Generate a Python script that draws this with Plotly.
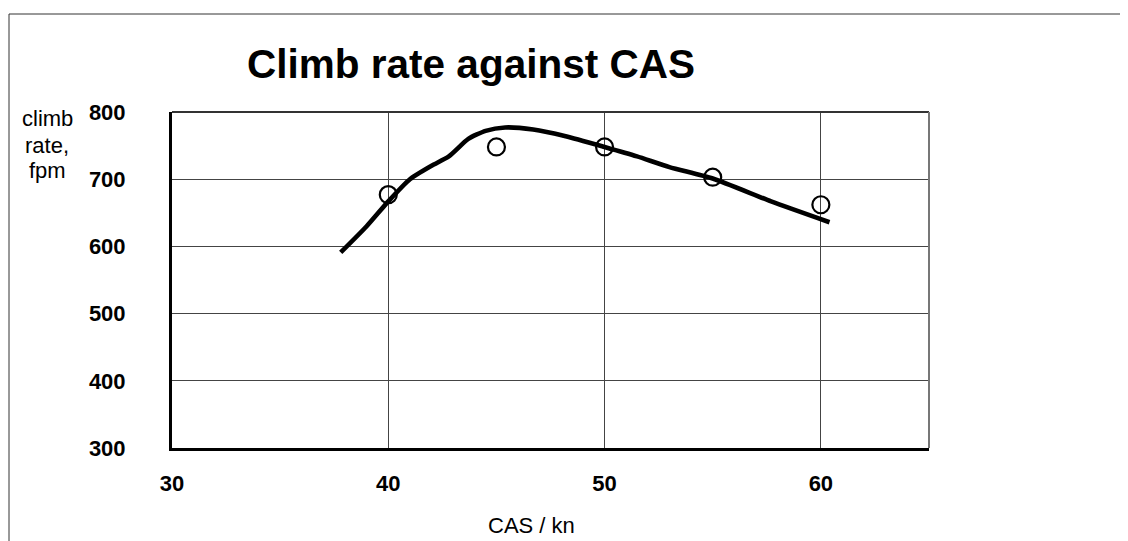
import plotly.graph_objects as go

# measured points
cas_pts = [40, 45, 50, 55, 60]
climb_pts = [677, 748, 748, 703, 662]

# fitted curve
cas_curve = [37.8, 39.0, 40.0, 41.0, 42.0, 42.8, 43.7, 44.5, 45.4, 46.7, 48.2, 50.0, 51.5, 53.0, 55.0, 57.7, 60.4]
climb_curve = [591, 630, 667, 700, 720, 734, 760, 772, 777, 774, 764, 748, 734, 718, 701, 667, 636]

x_ticks = [30, 40, 50, 60]
y_ticks = [300, 400, 500, 600, 700, 800]
y_title_lines = ["climb", "rate,", "fpm"]

FONT = "Liberation Sans, Arial, sans-serif"

fig = go.Figure()
fig.add_trace(go.Scatter(x=cas_curve, y=climb_curve, mode="lines",
                         line=dict(color="black", width=4.6, shape="spline", smoothing=0.6),
                         hoverinfo="skip", showlegend=False))
fig.add_trace(go.Scatter(x=cas_pts, y=climb_pts, mode="markers",
                         marker=dict(symbol="circle-open", size=17, color="black",
                                     line=dict(width=2.2, color="black")),
                         showlegend=False))

# the page has an 8px body margin, so figure coords = page coords - 8
W, H = 1120, 533
ml, mr, mt, mb = 164, 199, 104, 93
pw, ph = W - ml - mr, H - mt - mb

def px(xp):
    return (xp - ml) / pw

def py(yp):
    return (H - mb - yp) / ph

annotations = []
for line_text, yc in zip(y_title_lines, [110, 137, 162]):
    annotations.append(dict(text=line_text, xref="paper", yref="paper", x=px(39), y=py(yc),
                            xanchor="center", yanchor="middle", showarrow=False,
                            font=dict(size=22, family=FONT, color="black")))
annotations.append(dict(text="CAS / kn", xref="paper", yref="paper", x=px(523), y=py(517),
                        xanchor="center", yanchor="middle", showarrow=False,
                        font=dict(size=22, family=FONT, color="black")))

fig.update_layout(
    width=W, height=H,
    margin=dict(l=ml, r=mr, t=mt, b=mb),
    paper_bgcolor="white", plot_bgcolor="white",
    font=dict(family=FONT, color="black"),
    title=dict(text="<b>Climb rate against CAS</b>", xref="container", yref="container",
               x=463 / W, xanchor="center",
               y=1 - 56 / H, yanchor="middle", font=dict(size=40.5, family=FONT, color="black")),
    xaxis=dict(range=[30, 65], tickvals=x_ticks, ticktext=[str(v) for v in x_ticks],
               showgrid=True, gridcolor="#444", gridwidth=1,
               showline=True, linecolor="black", linewidth=3,
               zeroline=False, ticks="", ticklabelstandoff=14,
               tickfont=dict(size=22, family=FONT, color="black", weight="bold")),
    yaxis=dict(range=[300, 800], tickvals=y_ticks, ticktext=[str(v) for v in y_ticks],
               showgrid=True, gridcolor="#444", gridwidth=1,
               showline=True, linecolor="black", linewidth=3,
               zeroline=False, ticks="", ticklabelstandoff=39,
               tickfont=dict(size=22, family=FONT, color="black", weight="bold")),
    shapes=[
        # top and right thin plot borders
        dict(type="line", xref="paper", yref="paper", x0=0, x1=1, y0=1, y1=1,
             line=dict(color="#333", width=2)),
        dict(type="line", xref="paper", yref="paper", x0=1, x1=1, y0=0, y1=1,
             line=dict(color="#777", width=2)),
        # outer frame
        dict(type="line", xref="paper", yref="paper", x0=px(1), x1=px(1118), y0=py(6), y1=py(6),
             line=dict(color="#333", width=1)),
        dict(type="line", xref="paper", yref="paper", x0=px(1), x1=px(1), y0=py(6), y1=py(540),
             line=dict(color="#333", width=1)),
        dict(type="line", xref="paper", yref="paper", x0=px(1118), x1=px(1118), y0=py(6), y1=py(540),
             line=dict(color="#333", width=1)),
    ],
    annotations=annotations,
)

fig.write_html("out.html")
